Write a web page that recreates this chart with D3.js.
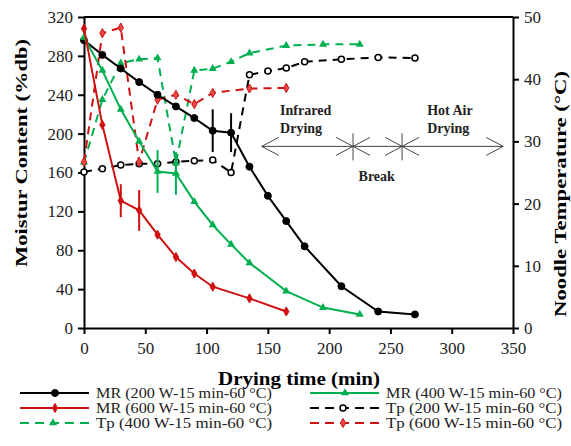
<!DOCTYPE html>
<html>
<head>
<meta charset="utf-8">
<script src="https://cdn.jsdelivr.net/npm/d3@7"></script>
<style>
  body { margin: 0; background: #fff; }
  text { font-family: "Liberation Serif", "Times New Roman", serif; }
</style>
</head>
<body>
<div id="chart"></div>
<script>
// drying times (min)
const time200 = [0, 15, 30, 45, 60, 75, 90, 105, 120, 135, 150, 165, 180, 210, 240, 270];
const time400 = [0, 15, 30, 45, 60, 75, 90, 105, 120, 135, 165, 195, 225];
const time600 = [0, 15, 30, 45, 60, 75, 90, 105, 135, 165];

// moisture content (%db)
const mr200 = [296, 281, 267, 253, 240, 228, 216, 203, 201, 166, 136, 110, 84, 43, 17, 14];
const mr400 = [299, 265, 225, 192, 161, 159, 130, 106, 86, 67, 38, 21, 14];
const mr600 = [308, 209, 131, 121, 96, 73, 56, 42.5, 30.5, 17];

// noodle temperature (°C)
const tp200 = [25.1, 25.6, 26.2, 26.4, 26.4, 26.7, 26.9, 27.0, 25.0, 40.7, 41.3, 41.8, 42.8, 43.2, 43.5, 43.4];
const tp400 = [26.6, 36.7, 42.6, 43.2, 43.4, 26.5, 41.4, 41.7, 42.8, 44.2, 45.4, 45.6, 45.6];
const tp600 = [26.7, 47.4, 48.3, 26.7, 36.7, 37.5, 36.0, 37.8, 38.5, 38.6];

// error bars on moisture content: [time, half-width]
const err200 = [[105, 22], [120, 20]];
const err400 = [[60, 22], [75, 22]];
const err600 = [[30, 17], [45, 21]];

const xTicks = [0, 50, 100, 150, 200, 250, 300, 350];
const yTicks = [0, 40, 80, 120, 160, 200, 240, 280, 320];
const y2Ticks = [0, 10, 20, 30, 40, 50];

const labels = [
    "MR (200 W-15 min-60 °C)", "MR (400 W-15 min-60 °C)",
    "MR (600 W-15 min-60 °C)", "Tp  (200 W-15 min-60 °C)",
    "Tp  (400 W-15 min-60 °C)", "Tp  (600 W-15 min-60 °C)"
];

// stage arrows (time positions) and stage labels
const stageBounds = [145, 219.5, 259.5, 342];
const stageText = [
    ["Infrared", 160, 34.2], ["Drying", 160, 31.3],
    ["Break", 224, 23.6],
    ["Hot Air", 280, 34.2], ["Drying", 280, 31.3]
];

const black = "#000", green = "#00b050", red = "#d01010";

const W = 571, H = 446;
const margin = { top: 17, right: 58, bottom: 118, left: 84 };
const width = W - margin.left - margin.right,
    height = H - margin.top - margin.bottom;

const svg = d3.select("#chart").append("svg")
    .attr("width", W).attr("height", H);

const g = svg.append("g")
    .attr("transform", `translate(${margin.left},${margin.top})`);

const x = d3.scaleLinear().domain([0, 350]).range([0, width]);
const y = d3.scaleLinear().domain([0, 320]).range([height, 0]);
const y2 = d3.scaleLinear().domain([0, 50]).range([height, 0]);

// top border
g.append("line")
    .attr("x1", 0).attr("x2", width).attr("y1", 0).attr("y2", 0)
    .attr("stroke", black).attr("stroke-width", 2);

function styleAxis(sel) {
    sel.select(".domain").attr("stroke-width", 2);
    sel.selectAll(".tick line").attr("stroke-width", 2);
    sel.selectAll(".tick text").attr("font-size", 17)
        .attr("font-family", "Liberation Serif, serif").attr("fill", "#222");
}

g.append("g").attr("transform", `translate(0,${height})`)
    .call(d3.axisBottom(x).tickValues(xTicks).tickSize(6).tickPadding(8).tickSizeOuter(0))
    .call(styleAxis);

g.append("g")
    .call(d3.axisLeft(y).tickValues(yTicks).tickSize(6).tickPadding(5).tickSizeOuter(0))
    .call(styleAxis);

g.append("g").attr("transform", `translate(${width},0)`)
    .call(d3.axisRight(y2).tickValues(y2Ticks).tickSize(6).tickPadding(5).tickSizeOuter(0))
    .call(styleAxis);

// axis titles
svg.append("text")
    .attr("transform", `translate(27,153) rotate(-90)`)
    .attr("text-anchor", "middle").attr("font-size", 17).attr("font-weight", "bold")
    .attr("textLength", 228).attr("lengthAdjust", "spacingAndGlyphs")
    .text("Moistur Content (%db)");

svg.append("text")
    .attr("transform", `translate(566,194) rotate(-90)`)
    .attr("text-anchor", "middle").attr("font-size", 17).attr("font-weight", "bold")
    .attr("textLength", 246).attr("lengthAdjust", "spacingAndGlyphs")
    .text("Noodle Temperature (°C)");

svg.append("text")
    .attr("x", 299).attr("y", 385)
    .attr("text-anchor", "middle").attr("font-size", 18).attr("font-weight", "bold")
    .attr("textLength", 162).attr("lengthAdjust", "spacingAndGlyphs")
    .text("Drying time (min)");

// stage annotation arrows
const ay = y2(29.2);
const ann = g.append("g").attr("stroke", "#444").attr("stroke-width", 1).attr("fill", "none");
ann.append("line")
    .attr("x1", x(stageBounds[0])).attr("x2", x(stageBounds[3]))
    .attr("y1", ay).attr("y2", ay);
function head(px, dir) {
    ann.append("path").attr("d", `M${px - dir * 17},${ay - 9}L${px},${ay}L${px - dir * 17},${ay + 9}`);
}
head(x(stageBounds[0]), -1);
head(x(stageBounds[1]), 1);
head(x(stageBounds[1]), -1);
head(x(stageBounds[2]), 1);
head(x(stageBounds[2]), -1);
head(x(stageBounds[3]), 1);
[stageBounds[1], stageBounds[2]].forEach(t => {
    ann.append("line").attr("x1", x(t)).attr("x2", x(t)).attr("y1", ay - 13).attr("y2", ay + 14);
});

g.selectAll(".ann").data(stageText).join("text")
    .attr("x", d => x(d[1])).attr("y", d => y2(d[2]))
    .attr("font-size", 14).attr("font-weight", "bold").attr("fill", "#222")
    .text(d => d[0]);

// marker drawing
function marker(sel, type, color, open) {
    if (type === "circle") {
        sel.append("circle").attr("r", open ? 3 : 3.5)
            .attr("fill", open ? "#fff" : color).attr("stroke", color)
            .attr("stroke-width", open ? 1.5 : 1);
    } else if (type === "triangle") {
        sel.append("path").attr("d", d3.symbol(d3.symbolTriangle, 28)())
            .attr("fill", color);
    } else {
        sel.append("path").attr("d", d3.symbol(d3.symbolDiamond, 24)())
            .attr("fill", open ? "#e84848" : color).attr("stroke", color).attr("stroke-width", 1);
    }
}

const series = [
    { t: time200, v: mr200, sc: y, color: black, dash: null, type: "circle", open: false, err: err200 },
    { t: time400, v: mr400, sc: y, color: green, dash: null, type: "triangle", open: false, err: err400 },
    { t: time600, v: mr600, sc: y, color: red, dash: null, type: "diamond", open: false, err: err600 },
    { t: time200, v: tp200, sc: y2, color: black, dash: "8,6", type: "circle", open: true },
    { t: time400, v: tp400, sc: y2, color: green, dash: "8,6", type: "triangle", open: false },
    { t: time600, v: tp600, sc: y2, color: red, dash: "8,6", type: "diamond", open: true }
];

const drawOrder = [3, 4, 5, 0, 1, 2];
drawOrder.forEach(i => {
    const s = series[i];
    const pts = s.t.map((t, j) => [t, s.v[j]]);
    const line = d3.line().x(d => x(d[0])).y(d => s.sc(d[1]));
    g.append("path").datum(pts)
        .attr("fill", "none").attr("stroke", s.color).attr("stroke-width", 2)
        .attr("stroke-dasharray", s.dash)
        .attr("d", line);
    if (s.err) {
        s.err.forEach(([t, e]) => {
            const v = s.v[s.t.indexOf(t)];
            g.append("line")
                .attr("x1", x(t)).attr("x2", x(t))
                .attr("y1", y(v + e)).attr("y2", y(v - e))
                .attr("stroke", s.color).attr("stroke-width", 2);
        });
    }
    pts.forEach(d => {
        const m = g.append("g").attr("transform", `translate(${x(d[0])},${s.sc(d[1])})`);
        marker(m, s.type, s.color, s.open);
    });
});

// legend
const legend = svg.append("g");
series.forEach((s, i) => {
    const col = i % 2, row = Math.floor(i / 2);
    const lx = col === 0 ? 20 : 310;
    const ly = 393 + row * 15;
    const lg = legend.append("g").attr("transform", `translate(${lx},${ly})`);
    lg.append("line").attr("x1", 0).attr("x2", 69).attr("y1", 0).attr("y2", 0)
        .attr("stroke", s.color).attr("stroke-width", 2)
        .attr("stroke-dasharray", s.dash ? "9,6" : null);
    const m = lg.append("g").attr("transform", `translate(${s.dash ? 33 : 35},0)`);
    marker(m, s.type, s.color, s.open);
    lg.append("text").attr("x", 76).attr("y", 5)
        .attr("font-size", 15).attr("fill", "#222")
        .attr("textLength", 176).attr("lengthAdjust", "spacingAndGlyphs")
        .text(labels[i]);
});
</script>
</body>
</html>
